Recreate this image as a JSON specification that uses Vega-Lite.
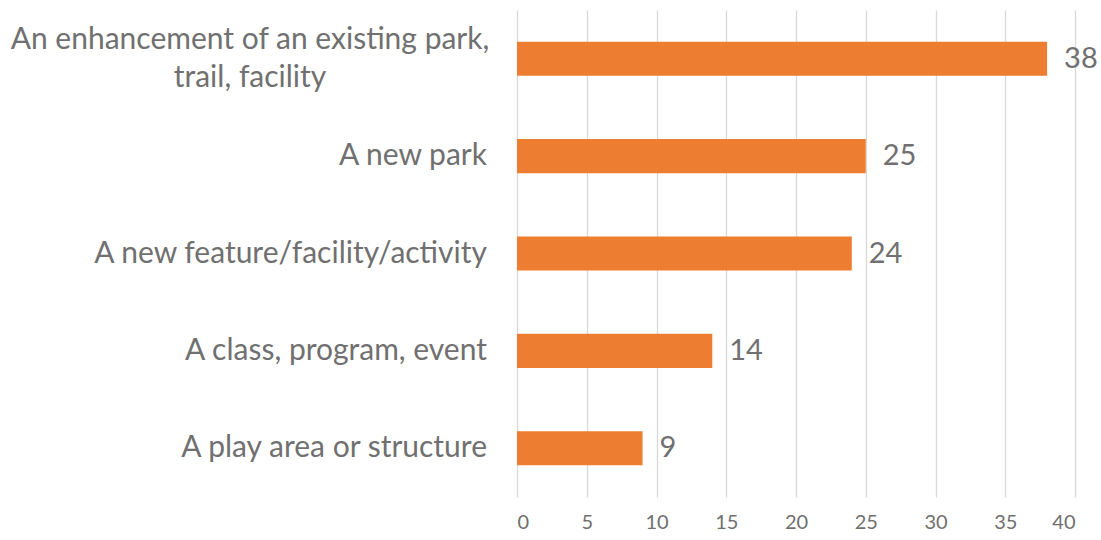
{
  "$schema": "https://vega.github.io/schema/vega-lite/v6.json",
  "autosize": "none",
  "width": 558,
  "height": 487,
  "padding": {"left": 517, "top": 10, "right": 26, "bottom": 43},
  "background": "white",
  "config": {"view": {"stroke": null}, "font": "Lato"},
  "data": {"values": [
    {"category": "An enhancement of an existing park,|trail, facility", "value": 38, "wrap": "yes"},
    {"category": "A new park", "value": 25, "wrap": "no"},
    {"category": "A new feature/facility/activity", "value": 24, "wrap": "no"},
    {"category": "A class, program, event", "value": 14, "wrap": "no"},
    {"category": "A play area or structure", "value": 9, "wrap": "no"}
  ]},
  "encoding": {
    "y": {"field": "category", "type": "nominal", "sort": null,
      "scale": {"paddingInner": 0.65, "paddingOuter": 0.325}, "axis": null}
  },
  "layer": [
    {
      "mark": {"type": "bar", "color": "#ED7D31"},
      "encoding": {
        "x": {"field": "value", "type": "quantitative",
          "scale": {"domain": [0, 40]},
          "axis": {"values": [0,5,10,15,20,25,30,35,40], "title": null, "domain": false, "ticks": false,
            "grid": true, "gridColor": "#d9d9d9", "gridWidth": 1.3,
            "labelFontSize": 20, "labelColor": "#707070", "labelPadding": 15, "labelFont": "Lato"}}
      }
    },
    {
      "mark": {"type": "text", "align": "left", "baseline": "middle", "dx": 17, "fontSize": 29, "color": "#707070"},
      "encoding": {
        "x": {"field": "value", "type": "quantitative"},
        "text": {"field": "value", "type": "quantitative"}
      }
    },
    {
      "transform": [{"filter": "datum.wrap == 'no'"}],
      "mark": {"type": "text", "align": "right", "baseline": "middle", "dx": -30, "fontSize": 30, "color": "#707070"},
      "encoding": {
        "x": {"datum": 0, "type": "quantitative"},
        "text": {"field": "category", "type": "nominal"}
      }
    },
    {
      "transform": [{"filter": "datum.wrap == 'yes'"}],
      "mark": {"type": "text", "align": "center", "baseline": "middle", "dx": -267, "dy": -19, "fontSize": 30, "lineHeight": 38, "lineBreak": "|", "color": "#707070"},
      "encoding": {
        "x": {"datum": 0, "type": "quantitative"},
        "text": {"field": "category", "type": "nominal"}
      }
    }
  ]
}
